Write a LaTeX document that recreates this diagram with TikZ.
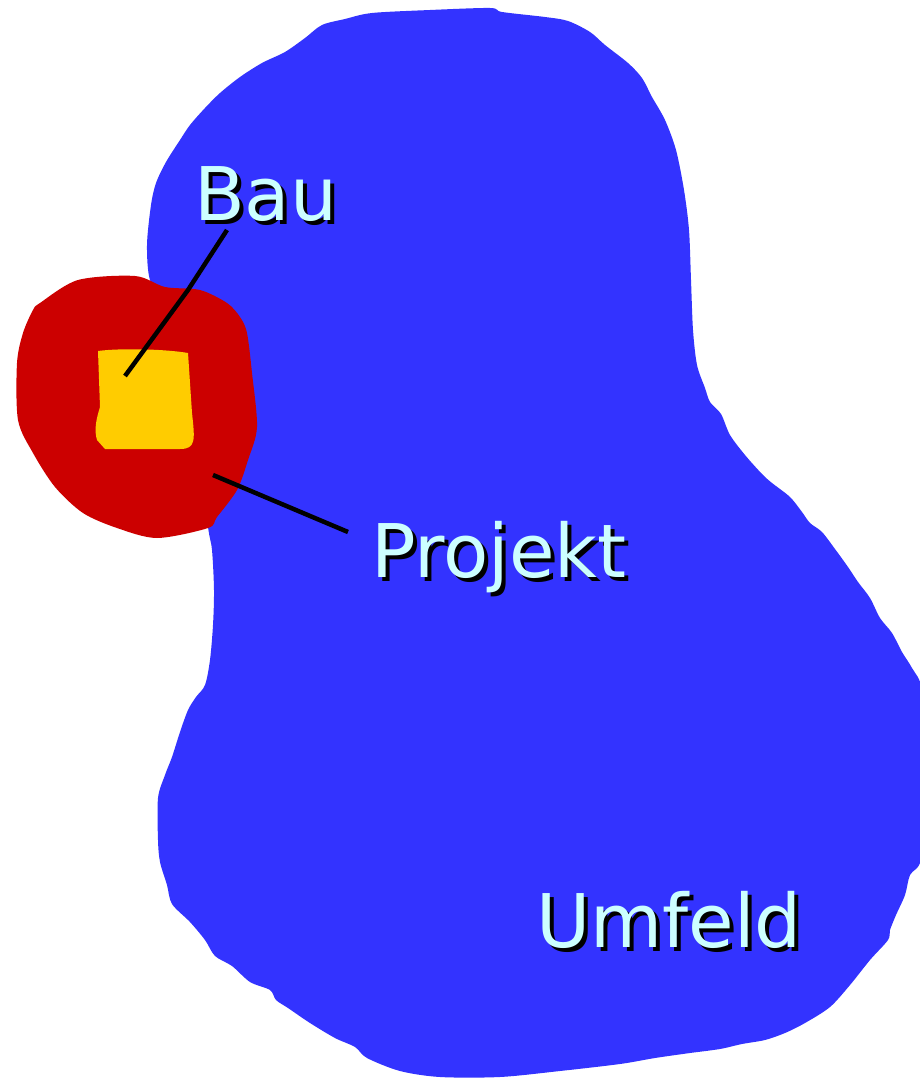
\documentclass[tikz,border=0pt]{standalone}
\usepackage{fontspec}
\setmainfont{DejaVu Sans}
\definecolor{umblue}{HTML}{3333FF}
\definecolor{prred}{HTML}{CC0000}
\definecolor{bauyel}{HTML}{FFCC00}
\definecolor{lbltxt}{HTML}{CCFFFF}
\newcommand\shadowedtext[1]{\makebox[0pt][l]{\hspace*{4pt}\raisebox{-4pt}{\textcolor{black}{#1}}}#1}
\begin{document}
\begin{tikzpicture}[x=1pt,y=-1pt,
  lbl/.style={inner sep=0pt,anchor=base west,text=lbltxt,font=\fontsize{74}{80}\selectfont},
  leader/.style={draw=black,line width=4.5pt}]
\useasboundingbox (0,0) rectangle (920,1078);
% Umfeld (blue)
\fill[umblue] plot[smooth cycle,tension=0.5] coordinates {
(147,245) (151,205) (156,183) (166,162) (180,140) (190,125) (205,108) (220,93) (240,77) (262,63) (285,52) (305,38) (322,25) (345,19) (372,13) (430,10) (490,8) (502,12) (545,17) (568,21) (590,32) (605,45) (628,63) (642,78) (652,97) (665,120) (676,150) (684,190) (689,230) (691,280) (693,330) (697,365) (705,388) (710,402) (721,414) (730,435) (745,455) (762,474) (772,483) (790,497) (802,512) (810,523) (822,532) (835,549) (848,567) (858,582) (870,598) (880,618) (892,633) (902,652) (912,668) (922,690) (925,760) (922,855) (910,875) (905,895) (896,915) (890,930) (888,940) (870,960) (850,985) (830,1007) (805,1023) (785,1033) (765,1040) (742,1044) (720,1049) (690,1053) (655,1058) (620,1064) (560,1071) (500,1077) (440,1077) (400,1071) (367,1058) (355,1047) (335,1038) (310,1023) (288,1008) (276,1000) (270,990) (250,982) (232,966) (215,956) (205,940) (190,922) (172,904) (167,885) (160,862) (158,840) (158,798) (165,775) (172,757) (180,732) (188,710) (196,697) (205,685) (210,660) (213,625) (214,590) (212,550) (208,527) (200,460) (190,380) (165,300) (150,280)};
% Projekt (red)
\fill[prred] plot[smooth cycle,tension=0.5] coordinates {
(78,280) (135,276) (165,287) (200,290) (227,303) (240,317) (247,333) (252,373) (257,427) (248,460) (237,490) (217,517) (208,528) (157,538) (117,528) (83,513) (55,487) (33,453) (18,420) (17,363) (23,333) (33,310) (40,303)};
% Bau (yellow)
\fill[bauyel] (98,351) .. controls (120,348) and (165,349) .. (188,353)
  -- (192,413) .. controls (195,440) and (196,449) .. (180,449)
  -- (105,449) -- (97,440) .. controls (94,430) and (96,420) .. (100,407)
  -- cycle;
% labels
\node[lbl] (bau) at (194,220) {\shadowedtext{Bau}};
\node[lbl] (projekt) at (371,577) {\shadowedtext{Projekt}};
\node[lbl] (umfeld) at (536,947) {\shadowedtext{Umfeld}};
% leader lines
\coordinate (bauA) at (227,230);
\coordinate (bauM) at (188,290);
\coordinate (bauB) at (125,376);
\coordinate (prA) at (348,532);
\coordinate (prB) at (213,475);
\draw[leader] (bauA) -- (bauM) -- (bauB);
\draw[leader] (prA) -- (prB);
\end{tikzpicture}
\end{document}
